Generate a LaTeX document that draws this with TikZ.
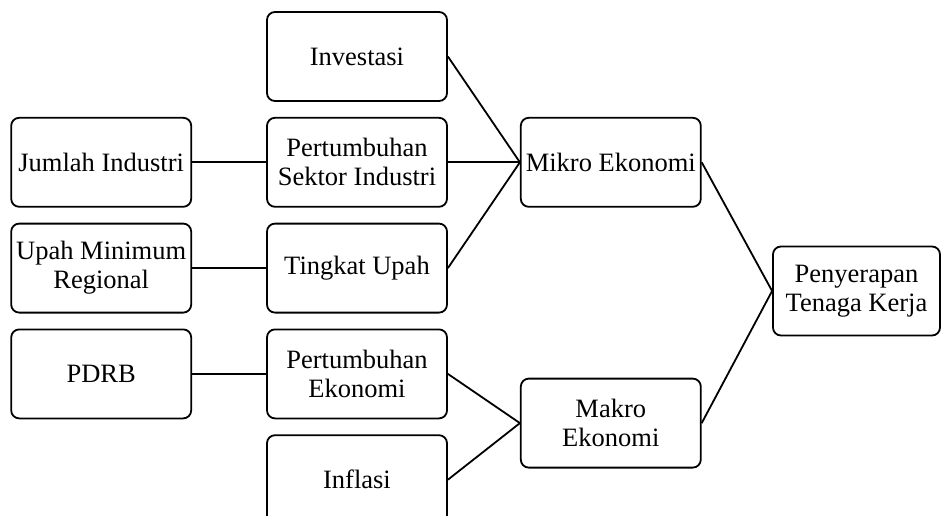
\documentclass[tikz,border=0pt]{standalone}
\usepackage{fontspec}
\setmainfont{Liberation Serif}
\usetikzlibrary{positioning}

\begin{document}
\begin{tikzpicture}[
    x=1pt, y=-1pt,
    node distance=15pt,
    box/.style={rectangle, draw, line width=1.8pt, rounded corners=8pt, minimum width=180pt, minimum height=89pt, inner sep=2pt, align=center, font=\fontsize{26.5}{29}\selectfont},
    link/.style={line width=1.8pt}
]
\useasboundingbox (0,0) rectangle (942,516);

% Nodes
\node[box] (investasi) at (357,56.5) {Investasi};
\node[box, below=of investasi] (sektor) {Pertumbuhan\\Sektor Industri};
\node[box, below=of sektor] (upah) {Tingkat Upah};
\node[box, below=of upah] (ekonomi) {Pertumbuhan\\Ekonomi};
\node[box, below=of ekonomi] (inflasi) {Inflasi};
\node[box, left=74pt of sektor] (jumlah) {Jumlah Industri};
\node[box, left=74pt of upah] (umr) {Upah Minimum\\Regional};
\node[box, left=74pt of ekonomi] (pdrb) {PDRB};
\node[box, right=72pt of sektor] (mikro) {Mikro Ekonomi};
\node[box, below=170pt of mikro] (makro) {Makro\\Ekonomi};
\node[box, minimum width=167pt] (serap) at (856.5,291) {Penyerapan\\Tenaga Kerja};

% Lines
\draw[link] (jumlah) -- (sektor);
\draw[link] (umr) -- (upah);
\draw[link] (pdrb) -- (ekonomi);
\draw[link] (investasi.east) -- (mikro.west);
\draw[link] (sektor.east) -- (mikro.west);
\draw[link] (upah.east) -- (mikro.west);
\draw[link] (ekonomi.east) -- (makro.west);
\draw[link] (inflasi.east) -- (makro.west);
\draw[link] (mikro.east) -- (serap.west);
\draw[link] (makro.east) -- (serap.west);

\end{tikzpicture}
\end{document}
